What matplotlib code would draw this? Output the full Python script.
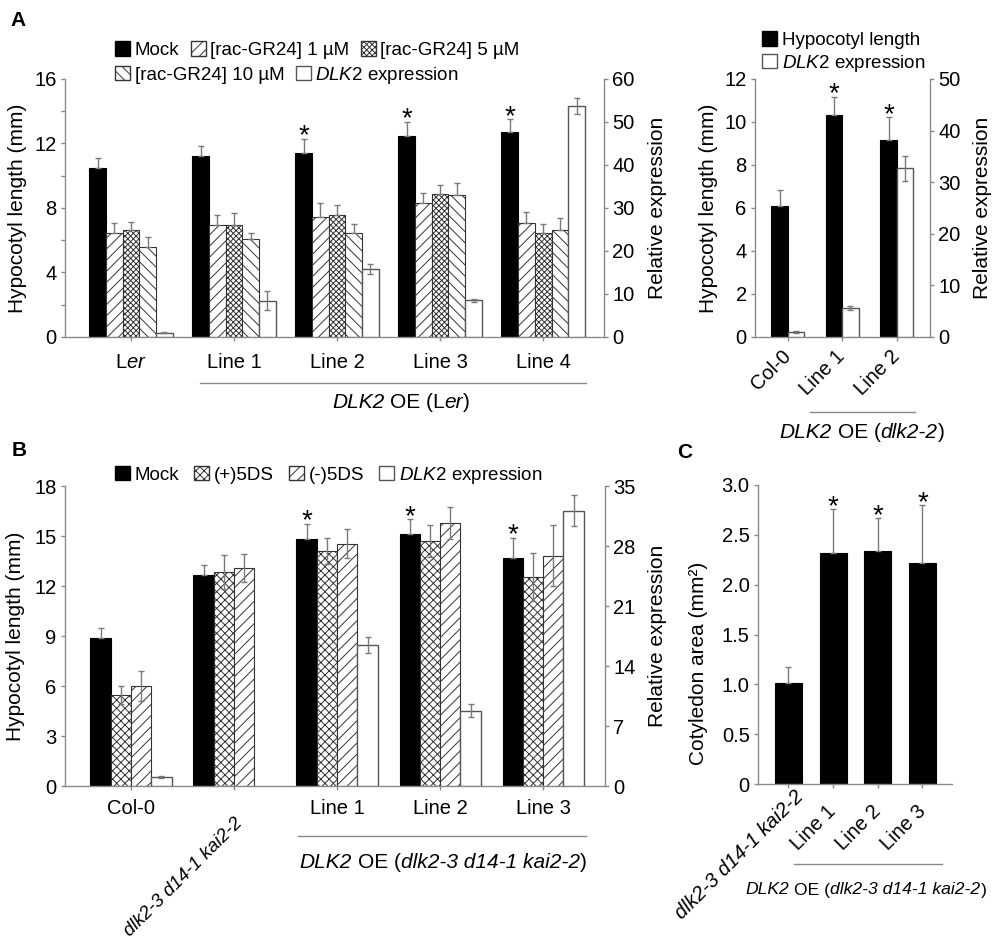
import numpy as np
import matplotlib
matplotlib.use('Agg')
import matplotlib.pyplot as plt
from matplotlib.patches import Patch
from matplotlib.lines import Line2D
from matplotlib.ticker import MultipleLocator, FuncFormatter

plt.rcParams['font.family'] = ['Liberation Sans', 'DejaVu Sans']
plt.rcParams['mathtext.fontset'] = 'custom'
plt.rcParams['mathtext.rm'] = 'Liberation Sans'
plt.rcParams['mathtext.it'] = 'Liberation Sans:italic'
plt.rcParams['hatch.linewidth'] = 0.7

# ---------------- data ----------------
# Panel A (left): Ler and DLK2 OE lines, rac-GR24 treatments
a_groups = ['L$\\mathit{er}$', 'Line 1', 'Line 2', 'Line 3', 'Line 4']
a_mock = [10.5, 11.2, 11.4, 12.45, 12.7]
a_mock_err = [0.6, 0.65, 0.9, 0.9, 0.8]
a_gr1 = [6.46, 6.96, 7.43, 8.34, 7.05]
a_gr1_err = [0.6, 0.62, 0.85, 0.62, 0.7]
a_gr5 = [6.63, 6.96, 7.54, 8.84, 6.45]
a_gr5_err = [0.5, 0.74, 0.62, 0.56, 0.55]
a_gr10 = [5.59, 6.07, 6.42, 8.78, 6.65]
a_gr10_err = [0.64, 0.35, 0.58, 0.79, 0.7]
a_expr = [1.0, 8.4, 15.8, 8.5, 53.7]
a_expr_err = [0.15, 2.2, 1.2, 0.35, 1.8]
a_sig = [False, False, True, True, True]

# Panel A (right): Col-0 and DLK2 OE (dlk2-2)
ar_groups = ['Col-0', 'Line 1', 'Line 2']
ar_hyp = [6.07, 10.33, 9.18]
ar_hyp_err = [0.76, 0.85, 1.04]
ar_expr = [1.0, 5.6, 32.7]
ar_expr_err = [0.2, 0.4, 2.4]
ar_sig = [False, True, True]

# Panel B: 5DS treatments
b_groups = ['Col-0', 'dlk2-3 d14-1 kai2-2', 'Line 1', 'Line 2', 'Line 3']
b_mock = [8.91, 12.64, 14.8, 15.14, 13.7]
b_mock_err = [0.58, 0.64, 0.94, 0.86, 1.2]
b_plus = [5.47, 12.84, 14.1, 14.72, 12.54]
b_plus_err = [0.53, 1.0, 0.8, 0.96, 1.42]
b_minus = [6.0, 13.08, 14.54, 15.78, 13.82]
b_minus_err = [0.9, 0.86, 0.88, 0.98, 1.84]
b_expr = [1.01, np.nan, 16.47, 8.8, 32.1]
b_expr_err = [0.12, np.nan, 0.93, 0.78, 1.8]
b_sig = [False, False, True, True, True]

# Panel C: cotyledon area
c_groups = ['dlk2-3 d14-1 kai2-2', 'Line 1', 'Line 2', 'Line 3']
c_area = [1.01, 2.32, 2.34, 2.22]
c_area_err = [0.16, 0.44, 0.33, 0.58]
c_sig = [False, True, True, True]

# ---------------- style ----------------
W, H = 1000, 941
GRAY = '#8a8a8a'
EGRAY = '#7a7a7a'
FS_TICK = 14.5
FS_LAB = 15
FS_LEG = 13.5
fig = plt.figure(figsize=(W / 100, H / 100), dpi=100)


def rect(l, r, t, b):
    return [l / W, 1 - b / H, (r - l) / W, (b - t) / H]


def style(ax, ax2=None):
    ax.spines['top'].set_visible(False)
    ax.spines['right'].set_visible(False)
    for s in ['left', 'bottom']:
        ax.spines[s].set_color(GRAY)
        ax.spines[s].set_linewidth(1.0)
    ax.tick_params(axis='both', which='both', direction='out', color=GRAY,
                   length=3, width=1.0, labelsize=FS_TICK)
    ax.tick_params(axis='y', which='both', pad=3)
    if ax2 is not None:
        for s in ['top', 'left', 'bottom']:
            ax2.spines[s].set_visible(False)
        ax2.spines['right'].set_color(GRAY)
        ax2.spines['right'].set_linewidth(1.0)
        ax2.tick_params(axis='y', direction='out', color=GRAY, length=3,
                        width=1.0, labelsize=FS_TICK, pad=3)


ekw = dict(ecolor=EGRAY, elinewidth=1.0, capsize=2, capthick=1.0)


def up(err):
    err = np.asarray(err, float)
    return [np.zeros_like(err), err]


def stars(ax, xs, vals, errs, flags):
    for xx, v, e, f in zip(xs, vals, errs, flags):
        if f:
            ax.annotate('*', xy=(xx, v + e), xytext=(0, -3.5), textcoords='offset points',
                        ha='center', va='baseline', fontsize=20)


def rich(parts, xc, y, size):
    r = fig.canvas.get_renderer()
    sp = 0.278 * size * 100 / 72
    ts, ws = [], []
    for s, st, gap in parts:
        t = fig.text(0, (H - y) / 100, s, transform=fig.dpi_scale_trans,
                     fontsize=size, fontstyle=st, ha='left', va='center')
        ts.append(t)
        ws.append(t.get_window_extent(r).width + gap * sp)
    x = xc - sum(ws) / 2
    for t, s_, wdt in zip(ts, parts, ws):
        x += s_[2] * sp
        t.set_x(x / 100)
        x += wdt - s_[2] * sp


def uline(x0, x1, y):
    fig.add_artist(Line2D([x0 / W, x1 / W], [1 - y / H, 1 - y / H],
                          transform=fig.transFigure, color=GRAY, lw=1.0))


# ---------------- Panel A left ----------------
ax = fig.add_axes(rect(65, 604, 79, 337))
ax2 = ax.twinx()
x = np.arange(len(a_groups))
w = 0.162
ax.bar(x - 2 * w, a_mock, w, color='black', edgecolor='black', lw=0.8,
       yerr=up(a_mock_err), error_kw=ekw)
ax.bar(x - w, a_gr1, w, color='white', edgecolor='#333333', lw=0.8, hatch='///',
       yerr=up(a_gr1_err), error_kw=ekw)
ax.bar(x, a_gr5, w, color='white', edgecolor='#333333', lw=0.8, hatch='xxxxxx',
       yerr=up(a_gr5_err), error_kw=ekw)
ax.bar(x + w, a_gr10, w, color='white', edgecolor='#333333', lw=0.8, hatch='\\\\\\',
       yerr=up(a_gr10_err), error_kw=ekw)
ax2.bar(x + 2 * w, a_expr, w, color='white', edgecolor='#555555', lw=1.0,
        yerr=a_expr_err, error_kw=ekw)
stars(ax, x - 2 * w, a_mock, a_mock_err, a_sig)
ax.set_xlim(-0.64, 4.59)
ax.set_ylim(0, 16)
ax2.set_ylim(0, 60)
ax.yaxis.set_major_locator(MultipleLocator(4))
ax.yaxis.set_minor_locator(MultipleLocator(2))
ax2.yaxis.set_major_locator(MultipleLocator(10))
ax.set_xticks(x)
ax.set_xticklabels(a_groups)
style(ax, ax2)
ax.tick_params(axis='x', pad=8.5)
ax.set_ylabel('Hypocotyl length (mm)', fontsize=FS_LAB)
ax.yaxis.set_label_coords(-38 / 539, 0.5)
ax2.set_ylabel('Relative expression', fontsize=FS_LAB)
ax2.yaxis.set_label_coords(1 + 44 / 539, 0.5)

hA = [Patch(facecolor='black', edgecolor='black'),
      Patch(facecolor='white', edgecolor='#333333', hatch='///'),
      Patch(facecolor='white', edgecolor='#333333', hatch='xxxxxx'),
      Patch(facecolor='white', edgecolor='#333333', hatch='\\\\\\'),
      Patch(facecolor='white', edgecolor='#555555')]
lA = ['Mock', '[rac-GR24] 1 µM', '[rac-GR24] 5 µM', '[rac-GR24] 10 µM',
      '$\\mathit{DLK2}$ expression']
legkw = dict(frameon=False, borderpad=0, borderaxespad=0, handlelength=0.8,
             handleheight=0.8, handletextpad=0.25, columnspacing=0.6,
             fontsize=FS_LEG, loc='center left')
fig.legend(hA[:3], lA[:3], ncol=3, bbox_to_anchor=(115 / W, 1 - 50 / H), **legkw)
fig.legend(hA[3:], lA[3:], ncol=2, bbox_to_anchor=(115 / W, 1 - 75 / H), **legkw)

# ---------------- Panel A right ----------------
bx = fig.add_axes(rect(755, 930, 79, 337))
bx2 = bx.twinx()
x = np.arange(len(ar_groups))
w = 0.30
bx.bar(x - w / 2, ar_hyp, w, color='black', edgecolor='black', lw=0.8,
       yerr=up(ar_hyp_err), error_kw=ekw)
bx2.bar(x + w / 2, ar_expr, w, color='white', edgecolor='#555555', lw=1.0,
        yerr=ar_expr_err, error_kw=ekw)
stars(bx, x - w / 2, ar_hyp, ar_hyp_err, ar_sig)
bx.set_xlim(-0.6, 2.61)
bx.set_ylim(0, 12)
bx2.set_ylim(0, 50)
bx.yaxis.set_major_locator(MultipleLocator(2))
bx2.yaxis.set_major_locator(MultipleLocator(10))
bx.set_xticks(x)
bx.set_xticklabels(ar_groups, rotation=45, ha='right', va='center', rotation_mode='anchor')
style(bx, bx2)
bx.tick_params(axis='x', pad=8.6)
bx.set_ylabel('Hypocotyl length (mm)', fontsize=FS_LAB)
bx.yaxis.set_label_coords(-37 / 175, 0.5)
bx2.set_ylabel('Relative expression', fontsize=FS_LAB)
bx2.yaxis.set_label_coords(1 + 43 / 175, 0.5)
legkw1 = dict(legkw)
legkw1.pop('columnspacing')
fig.legend([hA[0], hA[4]], ['Hypocotyl length', '$\\mathit{DLK2}$ expression'],
           ncol=1, labelspacing=0.2, bbox_to_anchor=(762 / W, 1 - 52.5 / H), **legkw1)

# ---------------- Panel B ----------------
cx = fig.add_axes(rect(65, 605, 486, 786))
cx2 = cx.twinx()
x = np.arange(len(b_groups))
w = 0.197
cx.bar(x - 1.5 * w, b_mock, w, color='black', edgecolor='black', lw=0.8,
       yerr=up(b_mock_err), error_kw=ekw)
cx.bar(x - 0.5 * w, b_plus, w, color='white', edgecolor='#333333', lw=0.8, hatch='xxxx',
       yerr=b_plus_err, error_kw=ekw)
cx.bar(x + 0.5 * w, b_minus, w, color='white', edgecolor='#333333', lw=0.8, hatch='///',
       yerr=b_minus_err, error_kw=ekw)
cx2.bar(x + 1.5 * w, b_expr, w, color='white', edgecolor='#555555', lw=1.0,
        yerr=b_expr_err, error_kw=ekw)
stars(cx, x - 1.5 * w, b_mock, b_mock_err, b_sig)
cx.set_xlim(-0.64, 4.6)
cx.set_ylim(0, 18)
cx2.set_ylim(0, 35)
cx.yaxis.set_major_locator(MultipleLocator(3))
cx2.yaxis.set_major_locator(MultipleLocator(7))
cx.set_xticks(x)
cx.set_xticklabels([g if i != 1 else '' for i, g in enumerate(b_groups)])
cx.annotate(b_groups[1], xy=(1, 0), xycoords=('data', 'axes fraction'),
            xytext=(4.5, -25), textcoords='offset points', rotation=45,
            ha='right', va='center', rotation_mode='anchor', fontstyle='italic',
            fontsize=13.5)
style(cx, cx2)
cx.tick_params(axis='x', pad=6.5)
cx.set_ylabel('Hypocotyl length (mm)', fontsize=FS_LAB)
cx.yaxis.set_label_coords(-40 / 540, 0.5)
cx2.set_ylabel('Relative expression', fontsize=FS_LAB)
cx2.yaxis.set_label_coords(1 + 43 / 540, 0.5)
hB = [Patch(facecolor='black', edgecolor='black'),
      Patch(facecolor='white', edgecolor='#333333', hatch='xxxx'),
      Patch(facecolor='white', edgecolor='#333333', hatch='///'),
      Patch(facecolor='white', edgecolor='#555555')]
lB = ['Mock', '(+)5DS', '(-)5DS', '$\\mathit{DLK2}$ expression']
legkwB = dict(legkw)
legkwB['columnspacing'] = 0.8
fig.legend(hB, lB, ncol=4, bbox_to_anchor=(115 / W, 1 - 475 / H), **legkwB)

# ---------------- Panel C ----------------
dx = fig.add_axes(rect(758, 952, 485, 784))
x = np.arange(len(c_groups))
w = 0.6
dx.bar(x, c_area, w, color='black', edgecolor='black', lw=0.8,
       yerr=up(c_area_err), error_kw=ekw)
stars(dx, x, c_area, c_area_err, c_sig)
dx.set_xlim(-0.68, 3.66)
dx.set_ylim(0, 3.0)
dx.yaxis.set_major_locator(MultipleLocator(0.5))
dx.yaxis.set_major_formatter(FuncFormatter(lambda v, p: '0' if abs(v) < 1e-9 else f'{v:.1f}'))
dx.set_xticks(x)
dx.set_xticklabels([g if i != 0 else '' for i, g in enumerate(c_groups)],
                   rotation=45, ha='right', va='center', rotation_mode='anchor')
dx.annotate(c_groups[0], xy=(0, 0), xycoords=('data', 'axes fraction'),
            xytext=(8.6, -7.2), textcoords='offset points', rotation=45,
            ha='right', va='center', rotation_mode='anchor', fontstyle='italic',
            fontsize=FS_TICK)
style(dx)
dx.tick_params(axis='x', pad=14.4)
dx.set_ylabel('Cotyledon area (mm²)', fontsize=FS_LAB)
dx.yaxis.set_label_coords(-50 / 194, 0.405)

# ---------------- annotations ----------------
fig.text(10 / W, 1 - 21 / H, 'A', fontsize=15, fontweight='bold', va='center')
fig.text(12 / W, 1 - 451 / H, 'B', fontsize=15, fontweight='bold', va='center')
fig.text(677 / W, 1 - 452 / H, 'C', fontsize=15, fontweight='bold', va='center')

uline(200, 586, 383)
uline(810, 915, 412)
uline(298, 586, 836)
uline(794, 942, 864)

rich([('DLK2', 'italic', 0), ('OE (L', 'normal', 1), ('er', 'italic', 0), (')', 'normal', 0)],
     401, 403, 15)
rich([('DLK2', 'italic', 0), ('OE (', 'normal', 1), ('dlk2-2', 'italic', 0), (')', 'normal', 0)],
     862, 433, 15)
rich([('DLK2', 'italic', 0), ('OE (', 'normal', 1), ('dlk2-3 d14-1 kai2-2', 'italic', 0),
      (')', 'normal', 0)], 443, 862, 15)
rich([('DLK2', 'italic', 0), ('OE (', 'normal', 1), ('dlk2-3 d14-1 kai2-2', 'italic', 0),
      (')', 'normal', 0)], 866, 890, 12.6)

fig.savefig('out.png', dpi=100)
